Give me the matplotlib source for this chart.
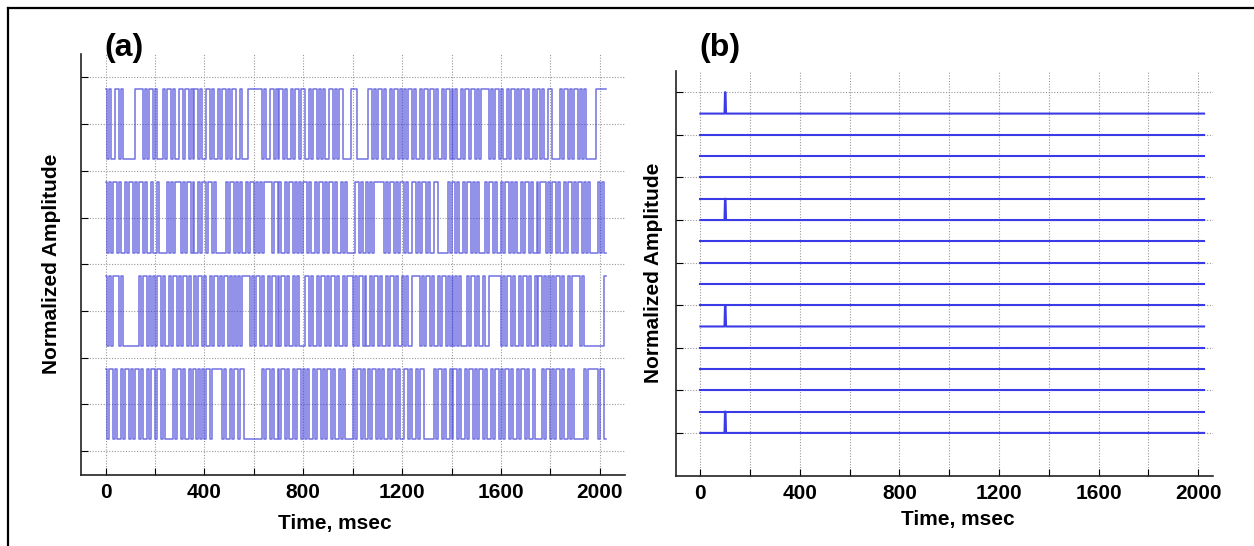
import numpy as np
import matplotlib.pyplot as plt
from matplotlib.lines import Line2D

plt.rcParams['font.family'] = ['Liberation Sans', 'DejaVu Sans']

# Панель (a): двоичные последовательности, один символ = 8 мс
bin_ms = 8
trace1 = ("1010011010000001111010110" "1000101101001101101011010" "0110100101101011001000111"
          "1111010011010110100101101" "1001011010100110101100001" "1100000011010110100101101"
          "0101101001011011010010110" "1010010110110101111010110" "1001011010110100101101001"
          "1000010110101101010000011" "111")
trace2 = ("1010110100101101011010010" "0100001010111010110100101" "1011010000010110101001011"
          "0101011110110100101101010" "1101001011010110100101000" "0110100101011111010110101"
          "1010011010110100110000010" "1101001011010100010110100" "1011010100101101001011101"
          "0110100101101011010100001" "010")
trace3 = ("1010111010000000010110101" "0110100101101011010010110" "1001011010110101010111101"
          "0110100101101011010010100" "0110100101101011010010111" "0101101001011010010110100"
          "1010011110101101001011010" "1010100010110100100111111" "0101101001011010010110101"
          "0101101001011110100000000" "001")
trace4 = ("1011010010110101101001011" "0110100001011010010110101" "0110111110100101101100000"
          "0000101101001011010010110" "1010010110101101001010000" "1011010010110101001011010"
          "0110100101100000101101001" "0110100101101011010010110" "1011010010110100100001011"
          "0101101001010000010111110" "110")
traces_a = [trace1, trace2, trace3, trace4]   # сверху вниз

# Панель (b): 16 линий, импульс на 100 мс у каждой пятой
levels_b = [0, 0.5, 1, 1.5, 2, 2.5, 3, 3.5, 4, 4.5, 5, 5.5, 6, 6.5, 7, 7.5]
spike_levels = [0, 2.5, 5, 7.5]
t_b = [0, 97, 99, 101, 103, 2024]
spike_b = [0, 0, 0.5, 0.5, 0, 0]

xticks = [0, 200, 400, 600, 800, 1000, 1200, 1400, 1600, 1800, 2000]
xticklabels = ['0', '', '400', '', '800', '', '1200', '', '1600', '', '2000']

fig = plt.figure(figsize=(12.54, 5.46), dpi=100)

# Рамка сверху и слева
fig.add_artist(Line2D([8 / 1254, 1], [1 - 8 / 546, 1 - 8 / 546], color='black', lw=1.6))
fig.add_artist(Line2D([8 / 1254, 8 / 1254], [0, 1 - 8 / 546], color='black', lw=1.6))

ax1 = fig.add_axes([80.8 / 1254, 1 - 474.5 / 546, (624.5 - 80.8) / 1254, (474.5 - 54) / 546])
ax2 = fig.add_axes([675.5 / 1254, 1 - 475.5 / 546, (1213 - 675.5) / 1254, (475.5 - 71) / 546])

# Панель (a)
for i, s in enumerate(traces_a):
    k = len(traces_a) - 1 - i
    low, high = 2 * k + 0.25, 2 * k + 1.75
    bits = np.array([int(c) for c in s])
    t = np.arange(len(bits) + 1) * bin_ms
    y = np.where(np.append(bits, bits[-1]) == 1, high, low)
    ax1.step(t, y, where='post', color='#3a3ad6', lw=1.1, alpha=0.72)

ax1.set_xlim(-100, 2100)
ax1.set_ylim(-0.5, 8.5)
ax1.set_yticks(range(0, 9))

# Панель (b)
for lev in levels_b:
    if lev in spike_levels:
        ax2.plot(t_b, np.array(spike_b) + lev, color='#3a3ae6', lw=1.5)
    else:
        ax2.plot([t_b[0], t_b[-1]], [lev, lev], color='#3a3ae6', lw=1.5)

ax2.set_xlim(-100, 2060)
ax2.set_ylim(-1, 8.5)
ax2.set_yticks(range(0, 9))

for ax, lp, xl, yl in [(ax1, 8, 0.4675, -0.095), (ax2, 3, 0.525, -0.085)]:
    ax.set_xticks(xticks)
    ax.set_xticklabels(xticklabels, fontsize=15, fontweight='bold')
    ax.set_yticklabels([])
    ax.tick_params(direction='in', length=5, width=0.8, pad=6)
    ax.grid(True, color='#999999', linestyle=(0, (1, 1.5)), lw=0.8)
    ax.set_axisbelow(True)
    for side in ['top', 'right']:
        ax.spines[side].set_visible(False)
    for side in ['left', 'bottom']:
        ax.spines[side].set_linewidth(1.2)
        ax.spines[side].set_color('#222222')
    ax.set_ylabel('Normalized Amplitude', fontsize=15, fontweight='bold', labelpad=lp)
    ax.set_xlabel('Time, msec', fontsize=15, fontweight='bold')
    ax.xaxis.set_label_coords(xl, yl)

fig.text(104 / 1254, 1 - 48 / 546, '(a)', fontsize=23, fontweight='bold', va='center', ha='left')
fig.text(699 / 1254, 1 - 48 / 546, '(b)', fontsize=23, fontweight='bold', va='center', ha='left')

fig.savefig('out.png', dpi=100)
